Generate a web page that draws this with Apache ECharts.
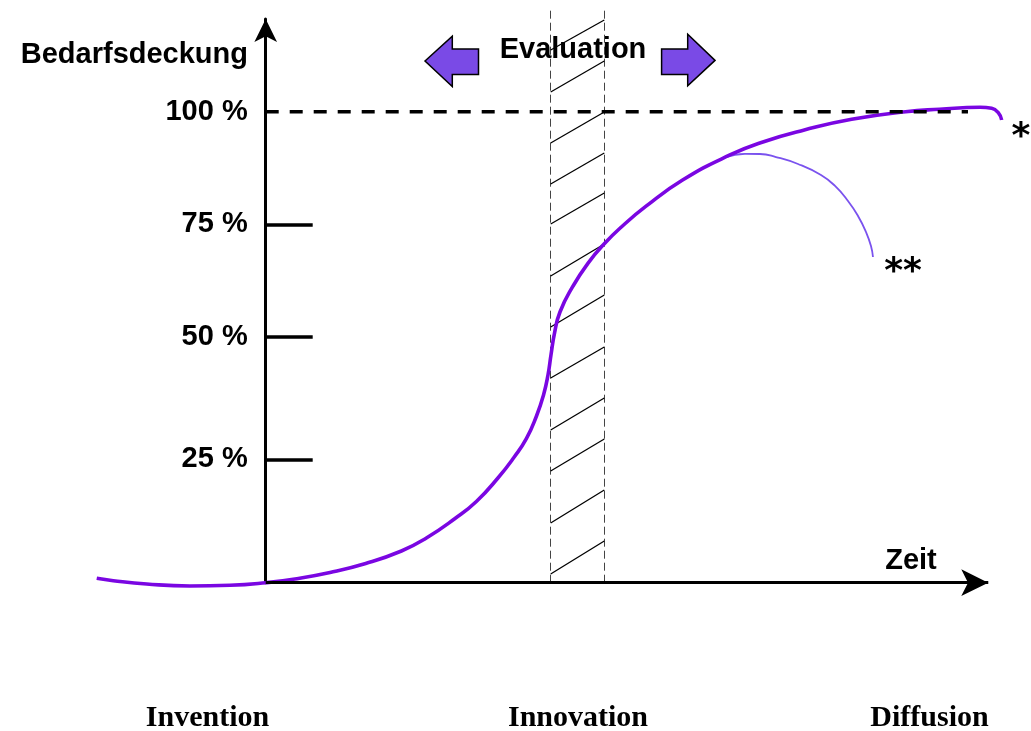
<!DOCTYPE html>
<html>
<head>
<meta charset="utf-8">
<script src="https://cdn.jsdelivr.net/npm/echarts@6/dist/echarts.min.js"></script>
<style>
  html, body { margin: 0; padding: 0; background: #fff; }
  #chart { width: 1031px; height: 731px; }
</style>
</head>
<body>
<div id="chart"></div>
<script>
// ---- data (time units: 0 = y axis; y in % of Bedarfsdeckung) ----
const mainX = [-23.83, -21.49, -16.78, -10.68, -5.03, 0, 4.13, 9.07, 14.10, 19.14, 22.66, 26.70, 29.71, 32.75, 35.00, 36.76, 38.19, 39.18, 39.81, 40.23, 40.73, 41.50, 43.29, 45.44, 47.82, 50.20, 53.55, 58.79, 65.46, 70.23, 75.96, 82.63, 90.25, 95.02, 100.75, 102.38, 103.31, 103.79];
const mainY = [0.93, 0.42, -0.28, -0.70, -0.55, 0, 0.79, 2.17, 4.08, 6.73, 9.49, 13.63, 17.24, 22.23, 26.58, 30.57, 35.39, 39.85, 44.10, 48.34, 53.01, 57.47, 62.85, 67.81, 72.06, 75.58, 79.83, 85.50, 90.81, 93.63, 96.11, 98.39, 100.00, 100.51, 100.93, 100.72, 99.79, 98.24];
const declineX = [64.77, 67.59, 69.71, 71.96, 75.07, 78.31, 80.29, 82.12, 83.53, 84.66, 85.36, 85.64];
const declineY = [90.28, 91.06, 91.02, 90.38, 88.90, 86.56, 84.23, 81.04, 77.86, 74.46, 71.49, 69.15];
const saturationX = [0, 99.04];
const saturationY = [100, 100];
const timeAxisEnd = 101.9;
const evalBandX = [40.19, 47.75];
const evalBandY = [0, 121.6];
const hatchLeftY = [113.10, 104.18, 93.35, 84.65, 76.16, 65.12, 54.29, 43.46, 32.42, 23.72, 12.68, 1.85];
const hatchRightY = [119.47, 110.76, 99.94, 91.23, 82.74, 71.91, 61.08, 50.04, 39.21, 30.51, 19.68, 8.85];
const yTickValues = [26.2, 52.2, 76.1];
const yLabelValues = [26.2, 52.2, 76.1, 100];
const yLabelTexts = ['25 %', '50 %', '75 %', '100 %'];
const phaseLabels = ['Invention', 'Innovation', 'Diffusion'];

const zip = (xs, ys) => xs.map((x, i) => [x, ys[i]]);

const chart = echarts.init(document.getElementById('chart'), null, { renderer: 'canvas' });

const sansBold = { fontFamily: 'Liberation Sans', fontWeight: 'bold', fill: '#000' };
const arrowFill = '#7a4ae6';
const X_MIN = -24, X_MAX = 104, GRID_LEFT = 95.52, GRID_RIGHT = 27.84;
const pxPerUnit = (1031 - GRID_LEFT - GRID_RIGHT) / (X_MAX - X_MIN);

const option = {
  backgroundColor: '#ffffff',
  animation: false,
  grid: { left: GRID_LEFT, right: GRID_RIGHT, top: 19, bottom: 148.3, containLabel: false, outerBoundsMode: 'none' },
  xAxis: {
    type: 'value', min: X_MIN, max: X_MAX,
    axisLine: { show: false },
    axisTick: { show: false }, axisLabel: { show: false }, splitLine: { show: false }
  },
  yAxis: {
    type: 'value', min: 0, max: 119.68, position: 'left',
    offset: -(0 - X_MIN) * pxPerUnit,
    axisLine: { show: true, onZero: false, symbol: ['none', 'arrow'], symbolSize: [17, 23],
      lineStyle: { color: '#000', width: 3 } },
    axisTick: { show: true, inside: true, length: 47, customValues: yTickValues,
      lineStyle: { color: '#000', width: 3.5 } },
    axisLabel: {
      show: true, customValues: yLabelValues, margin: 18,
      fontFamily: 'Liberation Sans', fontWeight: 'bold', fontSize: 29, color: '#000',
      formatter: function (v) {
        let best = 0;
        yLabelValues.forEach((t, i) => { if (Math.abs(t - v) < Math.abs(yLabelValues[best] - v)) best = i; });
        return yLabelTexts[best];
      }
    },
    splitLine: { show: false }
  },
  series: [
    {
      name: 'band', type: 'lines', coordinateSystem: 'cartesian2d', clip: false, z: 2,
      lineStyle: { color: '#444', width: 1, type: [8, 4], opacity: 1 },
      data: evalBandX.map(x => ({ coords: [[x, evalBandY[0]], [x, evalBandY[1]]] }))
    },
    {
      name: 'hatch', type: 'lines', coordinateSystem: 'cartesian2d', clip: false, z: 2,
      lineStyle: { color: '#000', width: 1.3, opacity: 1 },
      data: hatchLeftY.map((yl, i) => ({ coords: [[evalBandX[0], yl], [evalBandX[1], hatchRightY[i]]] }))
    },
    {
      name: 'decline', type: 'line', data: zip(declineX, declineY), smooth: 0.5, clip: false,
      symbol: 'none', z: 3, lineStyle: { color: '#7a52ee', width: 1.8 }
    },
    {
      name: 'main', type: 'line', data: zip(mainX, mainY), smooth: 0.5, clip: false,
      symbol: 'none', z: 4, lineStyle: { color: '#7a06e2', width: 3.6 }
    },
    {
      name: 'saturation', type: 'line', data: zip(saturationX, saturationY), clip: false,
      symbol: 'none', z: 5, lineStyle: { color: '#000', width: 3.5, type: [13, 11] },
      markLine: {
        silent: true, animation: false, symbol: ['none', 'arrow'], symbolSize: [20, 27],
        label: { show: false }, emphasis: { disabled: true },
        lineStyle: { color: '#000', width: 3, type: 'solid' },
        data: [[{ coord: [0, 0] }, { coord: [timeAxisEnd, 0] }]]
      }
    }
  ],
  graphic: [
    { type: 'text', x: 248, y: 55, style: Object.assign({ text: 'Bedarfsdeckung', fontSize: 29, textAlign: 'right', textVerticalAlign: 'middle' }, sansBold) },
    { type: 'text', x: 573, y: 50, style: Object.assign({ text: 'Evaluation', fontSize: 29, textAlign: 'center', textVerticalAlign: 'middle' }, sansBold) },
    { type: 'text', x: 911, y: 561, style: Object.assign({ text: 'Zeit', fontSize: 29, textAlign: 'center', textVerticalAlign: 'middle' }, sansBold) },
    { type: 'text', x: 1021, y: 138, style: { text: '*', fontFamily: 'DejaVu Sans', fontWeight: 'bold', fontSize: 36, fill: '#000', textAlign: 'center', textVerticalAlign: 'middle' } },
    { type: 'text', x: 903, y: 273, style: { text: '**', fontFamily: 'DejaVu Sans', fontWeight: 'bold', fontSize: 36, fill: '#000', textAlign: 'center', textVerticalAlign: 'middle' } },
    { type: 'polygon', shape: { points: [[425, 61], [452.3, 36.2], [452.3, 49], [478.5, 49], [478.5, 74.4], [452.3, 74.4], [452.3, 86.5]] },
      style: { fill: arrowFill, stroke: '#000', lineWidth: 1.5 } },
    { type: 'polygon', shape: { points: [[715, 60.4], [687.7, 34.2], [687.7, 49], [661.6, 49], [661.6, 74.4], [687.7, 74.4], [687.7, 85.7]] },
      style: { fill: arrowFill, stroke: '#000', lineWidth: 1.5 } },
    { type: 'text', x: 207.5, y: 718, style: { text: phaseLabels[0], fontFamily: 'Liberation Serif', fontWeight: 'bold', fontSize: 30, fill: '#000', textAlign: 'center', textVerticalAlign: 'middle' } },
    { type: 'text', x: 578, y: 718, style: { text: phaseLabels[1], fontFamily: 'Liberation Serif', fontWeight: 'bold', fontSize: 30, fill: '#000', textAlign: 'center', textVerticalAlign: 'middle' } },
    { type: 'text', x: 929.5, y: 718, style: { text: phaseLabels[2], fontFamily: 'Liberation Serif', fontWeight: 'bold', fontSize: 30, fill: '#000', textAlign: 'center', textVerticalAlign: 'middle' } }
  ]
};
chart.setOption(option);
</script>
</body>
</html>
